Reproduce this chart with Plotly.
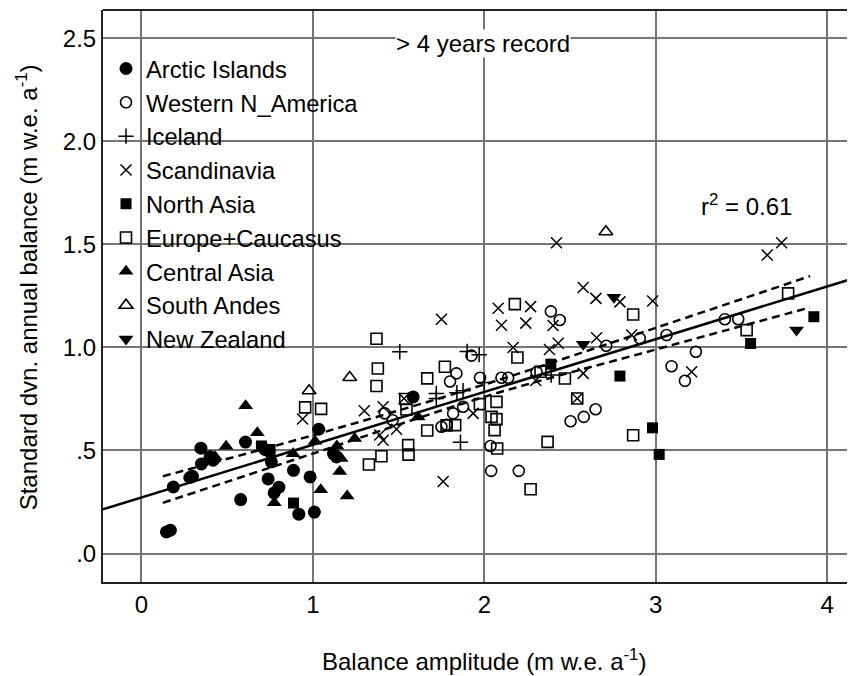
import plotly.graph_objects as go

# ---------------- data ----------------
ARCTIC_X = [0.146, 0.169, 0.186, 0.282, 0.298, 0.347, 0.35, 0.40, 0.418, 0.607, 0.579, 0.72, 0.745,
            0.758, 0.739, 0.802, 0.774, 0.887, 0.984, 0.918, 1.009, 1.034, 1.12, 1.138, 1.585]
ARCTIC_Y = [0.105, 0.113, 0.323, 0.369, 0.375, 0.511, 0.435, 0.47, 0.453, 0.541, 0.262, 0.505, 0.495,
            0.445, 0.362, 0.322, 0.294, 0.404, 0.372, 0.191, 0.201, 0.603, 0.485, 0.469, 0.76]

WNA_X = [1.42, 1.465, 1.75, 1.78, 1.818, 1.876, 1.80, 1.837, 1.925, 1.975, 2.10, 2.139, 2.036, 2.04,
         2.201, 2.305, 2.388, 2.44, 2.503, 2.58, 2.649, 2.711, 2.907, 3.063, 3.092, 3.17, 3.234, 3.403, 3.481]
WNA_Y = [0.68, 0.647, 0.615, 0.625, 0.68, 0.712, 0.835, 0.874, 0.96, 0.853, 0.853, 0.853, 0.522, 0.401,
         0.401, 0.88, 1.175, 1.133, 0.642, 0.663, 0.70, 1.008, 1.044, 1.06, 0.909, 0.838, 0.979, 1.137, 1.137]

ICE_X = [1.507, 1.861, 1.90, 1.97, 1.72, 1.72, 1.84, 1.876, 2.0, 2.39]
ICE_Y = [0.979, 0.54, 0.98, 0.965, 0.777, 0.752, 0.78, 0.79, 0.83, 0.866]

SCA_X = [0.94, 1.30, 1.41, 1.39, 1.41, 1.488, 1.76, 1.75, 1.935, 2.081, 2.27, 2.10, 2.242, 2.401, 2.168,
         2.38, 2.431, 2.30, 2.421, 2.577, 2.651, 2.791, 2.982, 2.655, 2.859, 2.577, 3.65, 3.734, 3.209,
         2.542, 1.532]
SCA_Y = [0.653, 0.693, 0.712, 0.575, 0.55, 0.603, 0.35, 1.137, 0.68, 1.19, 1.198, 1.108, 1.118, 1.106, 1.0,
         0.99, 1.02, 0.84, 1.508, 1.291, 1.238, 1.221, 1.225, 1.047, 1.06, 0.874, 1.448, 1.508, 0.882,
         0.752, 0.752]

NAS_X = [0.70, 0.75, 0.887, 2.388, 2.791, 2.981, 3.02, 3.553, 3.922]
NAS_Y = [0.522, 0.505, 0.245, 0.919, 0.861, 0.61, 0.481, 1.019, 1.149]

EUR_X = [0.955, 1.048, 1.371, 1.379, 1.371, 1.667, 1.77, 1.539, 1.546, 1.556, 1.558, 1.40, 1.327, 1.667,
         1.78, 1.83, 1.974, 2.042, 2.06, 2.071, 2.071, 2.075, 2.369, 2.868, 2.27, 2.178, 2.868, 2.193,
         2.47, 2.328, 2.542, 3.772, 3.53]
EUR_Y = [0.709, 0.702, 1.042, 0.898, 0.813, 0.85, 0.906, 0.75, 0.699, 0.526, 0.48, 0.472, 0.432, 0.597,
         0.622, 0.623, 0.725, 0.663, 0.599, 0.736, 0.652, 0.51, 0.542, 0.574, 0.312, 1.21, 1.16, 0.951,
         0.849, 0.882, 0.752, 1.262, 1.084]

CAS_X = [0.43, 0.494, 0.608, 0.676, 0.775, 0.885, 1.013, 1.14, 1.165, 1.157, 1.046, 1.2, 1.244, 1.614]
CAS_Y = [0.47, 0.52, 0.717, 0.586, 0.247, 0.484, 0.545, 0.522, 0.461, 0.398, 0.31, 0.279, 0.558, 0.663]

SAN_X = [0.978, 1.215, 2.709]
SAN_Y = [0.79, 0.854, 1.561]

NZL_X = [2.577, 2.756, 3.821]
NZL_Y = [1.016, 1.243, 1.084]

# regression line and its confidence band
REG_INTERCEPT = 0.272
REG_SLOPE = 0.256
REG_X = [-0.3, 4.3]
CI_X = [0.125, 1.0, 2.0, 3.0, 3.9]
CI_UPPER = [0.375, 0.574, 0.82, 1.095, 1.346]
CI_LOWER = [0.246, 0.485, 0.76, 0.99, 1.194]

X_TICKS = [0, 1, 2, 3, 4]
Y_TICKS = [0.0, 0.5, 1.0, 1.5, 2.0, 2.5]
Y_TICK_TEXT = [".0", ".5", "1.0", "1.5", "2.0", "2.5"]

FONT = "Liberation Sans, Arial, sans-serif"
K = "#000000"

series = [
    ("Arctic Islands", ARCTIC_X, ARCTIC_Y, "circle", 13, 0),
    ("Western N_America", WNA_X, WNA_Y, "circle-open", 11, 1.6),
    ("Iceland", ICE_X, ICE_Y, "cross-thin-open", 11, 1.5),
    ("Scandinavia", SCA_X, SCA_Y, "x-thin-open", 11, 1.5),
    ("North Asia", NAS_X, NAS_Y, "square", 11, 0),
    ("Europe+Caucasus", EUR_X, EUR_Y, "square-open", 11, 1.6),
    ("Central Asia", CAS_X, CAS_Y, "triangle-up", 13, 0),
    ("South Andes", SAN_X, SAN_Y, "triangle-up-open", 12, 1.6),
    ("New Zealand", NZL_X, NZL_Y, "triangle-down", 13, 0),
]

fig = go.Figure()

# regression + confidence band
fig.add_trace(go.Scatter(x=CI_X, y=CI_UPPER, mode="lines", line=dict(color=K, width=2.5, dash="8px,5px", shape="spline"),
                         showlegend=False, hoverinfo="skip"))
fig.add_trace(go.Scatter(x=CI_X, y=CI_LOWER, mode="lines", line=dict(color=K, width=2.5, dash="8px,5px", shape="spline"),
                         showlegend=False, hoverinfo="skip"))
fig.add_trace(go.Scatter(x=REG_X, y=[REG_INTERCEPT + REG_SLOPE * v for v in REG_X], mode="lines",
                         line=dict(color=K, width=2.5), showlegend=False, hoverinfo="skip"))

for i, (name, xs, ys, sym, size, lw) in enumerate(series):
    fig.add_trace(go.Scatter(
        x=xs, y=ys, mode="markers", name=name, legendgroup=f"g{i}",
        marker=dict(symbol=sym, size=size, color=K, line=dict(color=K, width=lw)),
    ))

fig.add_annotation(x=1.99, y=2.476, xref="x", yref="y", text="> 4 years record", showarrow=False,
                   font=dict(family=FONT, size=24, color=K), bgcolor="white", borderpad=0)
fig.add_annotation(x=3.53, y=1.691, xref="x", yref="y", text="r<sup>2</sup> = 0.61", showarrow=False,
                   font=dict(family=FONT, size=24, color=K))
fig.add_annotation(x=0.5065, y=-0.137, xref="paper", yref="paper", xanchor="center", yanchor="middle",
                   text="Balance amplitude (m w.e. a<sup>-1</sup>)", showarrow=False,
                   font=dict(family=FONT, size=24, color=K))
fig.add_annotation(x=-0.1015, y=0.5146, xref="paper", yref="paper", xanchor="center", yanchor="middle",
                   text="Standard dvn. annual balance (m w.e. a<sup>-1</sup>)", showarrow=False, textangle=-90,
                   font=dict(family=FONT, size=24, color=K))

# top frame line
fig.add_shape(type="line", xref="paper", yref="paper", x0=0, x1=1, y0=1, y1=1, line=dict(color="#222", width=2))

# the page adds an 8px body margin, so the figure is 8px smaller and shifted
fig.update_layout(
    width=847, height=668,
    margin=dict(l=95, r=0, t=2, b=94),
    paper_bgcolor="white", plot_bgcolor="white",
    font=dict(family=FONT, size=24, color=K),
    showlegend=True,
    legend=dict(x=0.004, y=0.936, xanchor="left", yanchor="top", bgcolor="rgba(0,0,0,0)",
                font=dict(family=FONT, size=23.7, color=K), tracegroupgap=0, borderwidth=0),
    xaxis=dict(range=[-0.224, 4.162], tickvals=X_TICKS, ticktext=[str(v) for v in X_TICKS],
               showgrid=True, gridcolor="#757575", gridwidth=1.5, zeroline=False,
               showline=True, linecolor="#222", linewidth=2, ticks="", ticklen=0,
               tickfont=dict(family=FONT, size=24, color=K)),
    yaxis=dict(range=[-0.138, 2.637], tickvals=Y_TICKS, ticktext=Y_TICK_TEXT,
               showgrid=True, gridcolor="#757575", gridwidth=1.5, zeroline=False,
               showline=True, linecolor="#222", linewidth=2, ticks="", ticklen=0,
               tickfont=dict(family=FONT, size=24, color=K)),
)

fig.write_html("out.html")
